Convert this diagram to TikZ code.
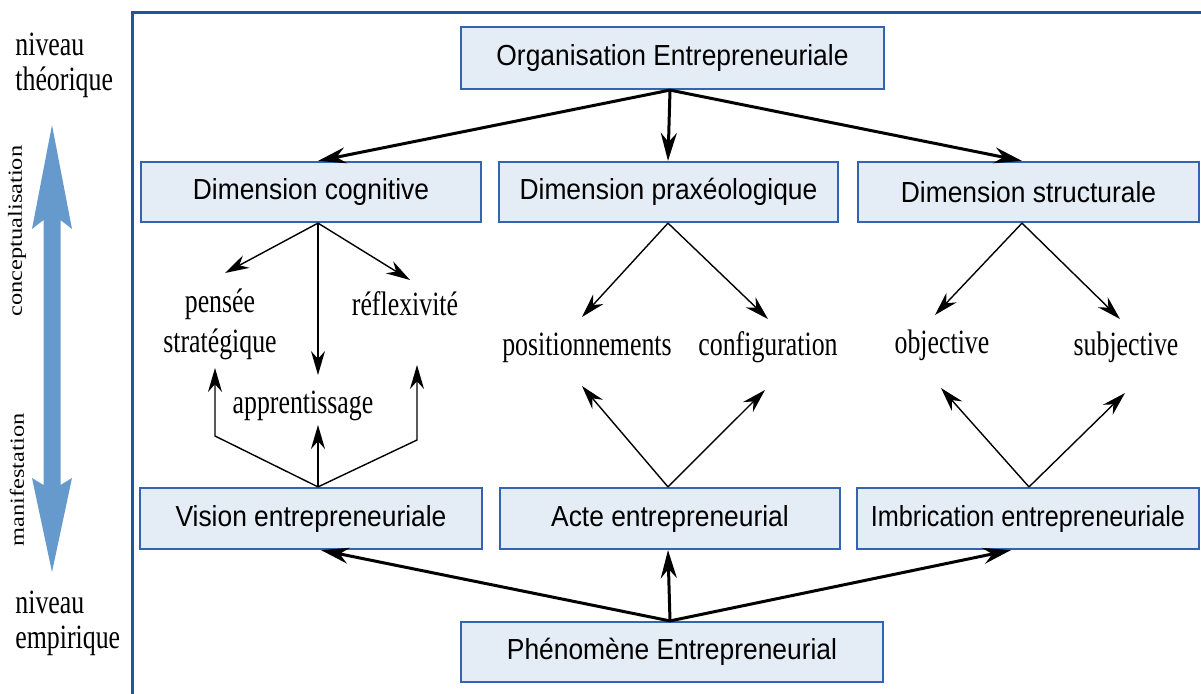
\documentclass[tikz,border=0pt]{standalone}
\usepackage{fontspec}
\setmainfont{Liberation Serif}
\setsansfont{Liberation Sans}
\usetikzlibrary{arrows.meta,calc}
\definecolor{frameblue}{RGB}{30,85,165}
\definecolor{boxborder}{RGB}{50,100,178}
\definecolor{boxfill}{RGB}{228,236,245}
\definecolor{bigarrow}{RGB}{102,153,204}
\newcommand{\bxt}[2][0.91]{\scalebox{#1}[1]{#2}}
\newcommand{\lbt}[1]{\scalebox{0.76}[1]{#1}}
\newcommand{\rtt}[1]{\scalebox{1.22}[1]{#1}}
\begin{document}
\begin{tikzpicture}[x=0.5pt,y=-0.5pt,
  dimbox/.style={draw=boxborder,line width=1.1pt,fill=boxfill,inner sep=0pt,
    font=\sffamily\fontsize{14.5}{16}\selectfont},
  lbltext/.style={font=\fontsize{17}{18}\selectfont,inner sep=0pt,anchor=base},
  sidetext/.style={font=\fontsize{17}{18}\selectfont,inner sep=0pt,anchor=base west},
  rottext/.style={font=\fontsize{10}{11}\selectfont,inner sep=0pt,rotate=90},
  thickarrow/.style={line width=1.5pt,-{Stealth[length=14pt,width=8pt]}},
  thinarrow/.style={line width=0.7pt,-{Stealth[length=12pt,width=7pt]}}
]
\useasboundingbox (0,0) rectangle (1201,693);
\clip (0,0) rectangle (1201,693);

% frame
\draw[frameblue,line width=1.5pt] (132,12) rectangle (1230,720);

% left side
\node[sidetext] (nt1) at (15,55) {\lbt{niveau}};
\node[sidetext] (nt2) at (15,90) {\lbt{théorique}};
\node[sidetext] (ne1) at (15,613) {\lbt{niveau}};
\node[sidetext] (ne2) at (15,648) {\lbt{empirique}};
\node[rottext] (concep) at (17,231) {\rtt{conceptualisation}};
\node[rottext] (manif) at (17,480) {\rtt{manifestation}};
\fill[bigarrow] (52,125) -- (72,229) -- (60.5,220) -- (60.5,485) -- (72,478)
  -- (52,572) -- (32,478) -- (43.5,485) -- (43.5,220) -- (32,229) -- cycle;

% boxes
\node[dimbox,minimum width=211.5pt,minimum height=31pt] (org) at (672.5,58) {\bxt{Organisation Entrepreneuriale}};
\node[dimbox,minimum width=170pt,minimum height=30pt] (dcog) at (311,192) {\bxt{Dimension cognitive}};
\node[dimbox,minimum width=169.5pt,minimum height=30pt] (dprax) at (668.5,192) {\bxt{Dimension praxéologique}};
\node[dimbox,minimum width=170.5pt,minimum height=30pt] (dstruc) at (1028.5,192) {\bxt{Dimension structurale}};
\node[dimbox,minimum width=171pt,minimum height=30.5pt] (vision) at (311,518.5) {\bxt{Vision entrepreneuriale}};
\node[dimbox,minimum width=170pt,minimum height=30.5pt] (acte) at (670,518.5) {\bxt{Acte entrepreneurial}};
\node[dimbox,minimum width=171pt,minimum height=30.5pt] (imbr) at (1028,518.5) {\bxt[0.87]{Imbrication entrepreneuriale}};
\node[dimbox,minimum width=211pt,minimum height=30pt] (phen) at (672,652) {\bxt{Phénomène Entrepreneurial}};

% labels
\node[lbltext] (pens1) at (220,312) {\lbt{pensée}};
\node[lbltext] (pens2) at (220,352) {\lbt{stratégique}};
\node[lbltext] (refl) at (405,315) {\lbt{réflexivité}};
\node[lbltext] (appr) at (303,413) {\lbt{apprentissage}};
\node[lbltext] (posi) at (587,355) {\lbt{positionnements}};
\node[lbltext] (conf) at (768,355) {\lbt{configuration}};
\node[lbltext] (obje) at (942,353) {\lbt{objective}};
\node[lbltext] (subj) at (1126,355) {\lbt{subjective}};

% thick arrows top
\draw[thickarrow] ($(org.south)+(-2.5,0)$) -- ($(dcog.north)+(7,0)$);
\draw[thickarrow] ($(org.south)+(-2.5,0)$) -- ($(dprax.north)+(-0.5,0)$);
\draw[thickarrow] ($(org.south)+(-2.5,0)$) -- ($(dstruc.north)+(-6.5,0)$);
% thick arrows bottom
\draw[thickarrow] ($(phen.north)+(-2,0)$) -- ($(vision.south)+(10,0)$);
\draw[thickarrow] ($(phen.north)+(-2,0)$) -- ($(acte.south)+(-2,0)$);
\draw[thickarrow] ($(phen.north)+(-2,0)$) -- ($(imbr.south)+(-17,0)$);

% cognitive
\coordinate (cP) at (225,273);
\coordinate (cR) at (410,280);
\coordinate (cA) at (318,375);
\draw[thinarrow] ($(dcog.south)+(7,0)$) -- (cP);
\draw[thinarrow] ($(dcog.south)+(7,0)$) -- (cR);
\draw[thinarrow] ($(dcog.south)+(7,0)$) -- (cA);
\coordinate (vL) at (215,436);
\coordinate (vLt) at (215,368);
\coordinate (vR) at (417,440);
\coordinate (vRt) at (417,365);
\coordinate (vMt) at (318,425);
\draw[thinarrow] ($(vision.north)+(7,0)$) -- (vL) -- (vLt);
\draw[thinarrow] ($(vision.north)+(7,0)$) -- (vR) -- (vRt);
\draw[thinarrow] ($(vision.north)+(7,0)$) -- (vMt);

% praxeologique
\coordinate (pP) at (582,317);
\coordinate (pC) at (768,319);
\coordinate (aP) at (582,386);
\coordinate (aC) at (765,390);
\draw[thinarrow] ($(dprax.south)+(-0.5,0)$) -- (pP);
\draw[thinarrow] ($(dprax.south)+(-0.5,0)$) -- (pC);
\draw[thinarrow] ($(acte.north)+(-2,0)$) -- (aP);
\draw[thinarrow] ($(acte.north)+(-2,0)$) -- (aC);

% structurale
\coordinate (sO) at (935,315);
\coordinate (sS) at (1120,319);
\coordinate (iO) at (941,388);
\coordinate (iS) at (1125,393);
\draw[thinarrow] ($(dstruc.south)+(-6.5,0)$) -- (sO);
\draw[thinarrow] ($(dstruc.south)+(-6.5,0)$) -- (sS);
\draw[thinarrow] ($(imbr.north)+(1,0)$) -- (iO);
\draw[thinarrow] ($(imbr.north)+(1,0)$) -- (iS);
\end{tikzpicture}
\end{document}
